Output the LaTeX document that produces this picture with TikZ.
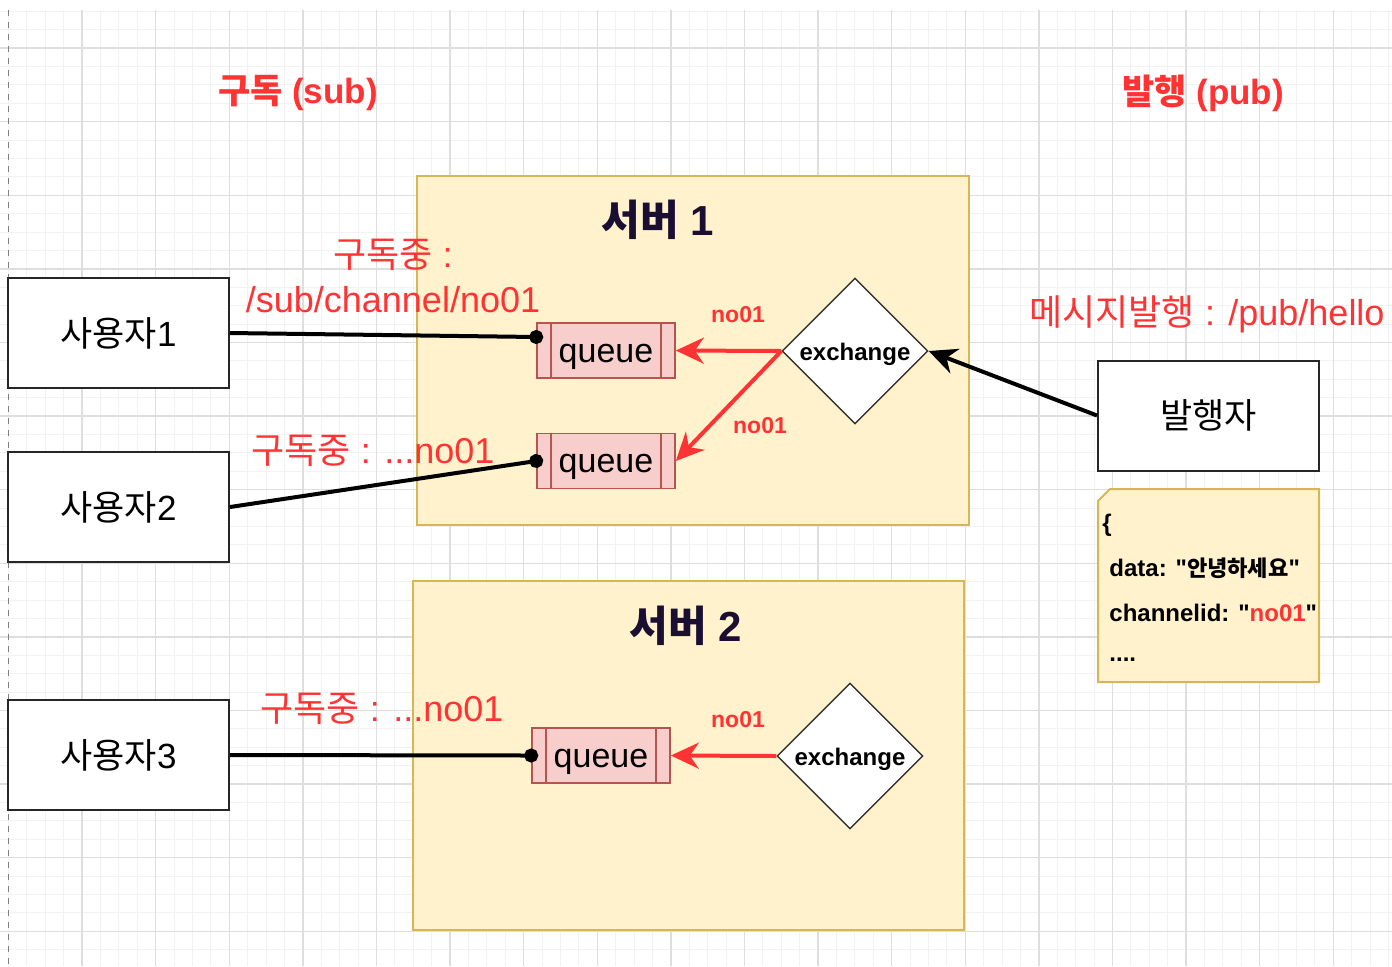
\documentclass[tikz,border=0pt]{standalone}
\usepackage{fontspec}
\setmainfont{Liberation Sans}[Ligatures=TeXOff]
\newfontfamily\kr{Noto Sans CJK KR}[Scale=1.0]
\newfontfamily\krs{Noto Sans CJK KR}[Scale=0.92]
\usetikzlibrary{shapes.geometric,arrows.meta}
\definecolor{redone}{HTML}{FF3333}
\definecolor{boxfill}{HTML}{FFF2CC}
\definecolor{boxline}{HTML}{D6B656}
\definecolor{qfill}{HTML}{F8CECC}
\definecolor{qline}{HTML}{B85450}
\definecolor{titlecol}{HTML}{1A0F33}
\definecolor{gminor}{HTML}{F2F2F2}
\definecolor{gmajor}{HTML}{DEDEDE}
\newcommand\lowered[2]{\raisebox{-#1}[\height][\depth]{#2}}
\begin{document}
\begin{tikzpicture}[x=0.5pt,y=-0.5pt,
  gridminor/.style={draw=gminor,line width=0.5pt},
  gridmajor/.style={draw=gmajor,line width=0.7pt},
  server/.style={draw=boxline,fill=boxfill,line width=1pt,inner sep=0pt},
  userbox/.style={draw=black!85,line width=1pt,fill=white,minimum width=110.5pt,minimum height=55pt,inner sep=0pt,font=\fontsize{17.5}{20}\selectfont},
  queuebox/.style={draw=qline,fill=qfill,line width=0.8pt,minimum width=69pt,minimum height=27.5pt,inner sep=0pt,font=\fontsize{17}{20}\selectfont,
    path picture={\draw[qline,line width=0.8pt]
      ([xshift=7pt]path picture bounding box.north west) -- ([xshift=7pt]path picture bounding box.south west)
      ([xshift=-7pt]path picture bounding box.north east) -- ([xshift=-7pt]path picture bounding box.south east);}},
  exch/.style={diamond,aspect=1,draw=black!80,fill=white,line width=0.7pt,minimum width=73pt,minimum height=73pt,inner sep=0pt,font=\bfseries\fontsize{12}{14}\selectfont},
  redlbl/.style={text=redone,font=\fontsize{18}{22.5}\selectfont,align=center,inner sep=0pt},
  headlbl/.style={text=redone,font=\bfseries\fontsize{17.5}{20}\selectfont,inner sep=0pt},
  titlelbl/.style={text=titlecol,font=\bfseries\fontsize{21}{24}\selectfont,inner sep=0pt},
  keylbl/.style={text=redone,font=\bfseries\fontsize{11.5}{14}\selectfont,inner sep=0pt},
  notetext/.style={font=\bfseries\fontsize{12}{14}\selectfont,anchor=west,inner sep=0pt},
  sublink/.style={line width=2pt,shorten >=-3.5pt,-{Circle[length=7pt]}},
  redarrow/.style={draw=redone,line width=2pt,-{Stealth[length=14pt,width=13pt,inset=4.5pt]}},
  blackarrow/.style={line width=2pt,-{Stealth[length=14pt,width=13pt,inset=4.5pt]}},
]
\useasboundingbox (0,0) rectangle (1392,966);
\fill[white] (0,0) rectangle (1392,966);
% grid
\foreach \i in {0,...,76} \draw[gridminor] ({-10+18.4*\i},10) -- ({-10+18.4*\i},966);
\foreach \j in {0,...,52} \draw[gridminor] (0,{11.2+18.4*\j}) -- (1392,{11.2+18.4*\j});
\foreach \i in {1,...,18} \draw[gridmajor] ({8.4+73.6*\i},10) -- ({8.4+73.6*\i},966);
\foreach \j in {0,...,12} \draw[gridmajor] (0,{48+73.6*\j}) -- (1392,{48+73.6*\j});
\draw[gray,dashed,line width=0.7pt] (8.4,10) -- (8.4,966);

% headings
\node[headlbl] (hsub) at (298,93) {{\kr 구독} (sub)};
\node[headlbl] (hpub) at (1203,93) {{\kr 발행} (pub)};

% servers
\node[server,minimum width=276pt,minimum height=174.5pt] (s1) at (693,350.5) {};
\node[server,minimum width=275.5pt,minimum height=174.5pt] (s2) at (688.5,755.5) {};
\node[titlelbl] (t1) at (658,220) {{\kr 서버} 1};
\node[titlelbl] (t2) at (686,626) {{\kr 서버} 2};

% users and publisher
\node[userbox] (u1) at (118.5,333) {{\kr 사용자}1};
\node[userbox] (u2) at (118.5,507) {{\kr 사용자}2};
\node[userbox] (u3) at (118.5,755) {{\kr 사용자}3};
\node[userbox] (pub) at (1208.5,415.5) {{\kr 발행자}};

% queues and exchanges
\node[queuebox] (q1) at (606,350.5) {\lowered{3pt}{queue}};
\node[queuebox] (q2) at (606,461) {\lowered{3pt}{queue}};
\node[queuebox] (q3) at (601,755.5) {\lowered{3pt}{queue}};
\node[exch] (e1) at (855,351) {\lowered{1.5pt}{exchange}};
\node[exch] (e2) at (850,756) {\lowered{1.5pt}{exchange}};

% labels
\node[redlbl] (l1) at (393,276) {{\kr 구독중} :\\/sub/channel/no01};
\node[redlbl] (l2) at (373,451) {{\kr 구독중} : ...no01};
\node[redlbl] (l3) at (382,709) {{\kr 구독중} : ...no01};
\node[redlbl] (l4) at (1207,314) {{\kr 메시지발행} : /pub/hello};
\node[keylbl] (k1) at (738,315) {no01};
\node[keylbl] (k2) at (760,426) {no01};
\node[keylbl] (k3) at (738,720) {no01};

% note
\draw[draw=boxline,fill=boxfill,line width=1pt] (1110,489) -- (1319,489) -- (1319,682) -- (1098,682) -- (1098,501) -- cycle;
\node[notetext] (n0) at (1102,525) {\{};
\node[notetext] (n1) at (1109,568) {data: "{\krs 안녕하세요}"};
\node[notetext] (n2) at (1109,613) {channelid: "\textcolor{redone}{no01}"};
\node[notetext] (n3) at (1109,660) {....};

% connectors
\draw[sublink] (u1.east) -- ([yshift=6.75pt]q1.west);
\draw[sublink] (u2.east) -- (q2.west);
\draw[sublink] (u3.east) -- (q3.west);
\draw[redarrow] (e1.west) -- (q1.east);
\draw[redarrow] (e1.west) -- (q2.east);
\draw[redarrow] (e2.west) -- (q3.east);
\draw[blackarrow] (pub.west) -- (e1.east);
\end{tikzpicture}
\end{document}
